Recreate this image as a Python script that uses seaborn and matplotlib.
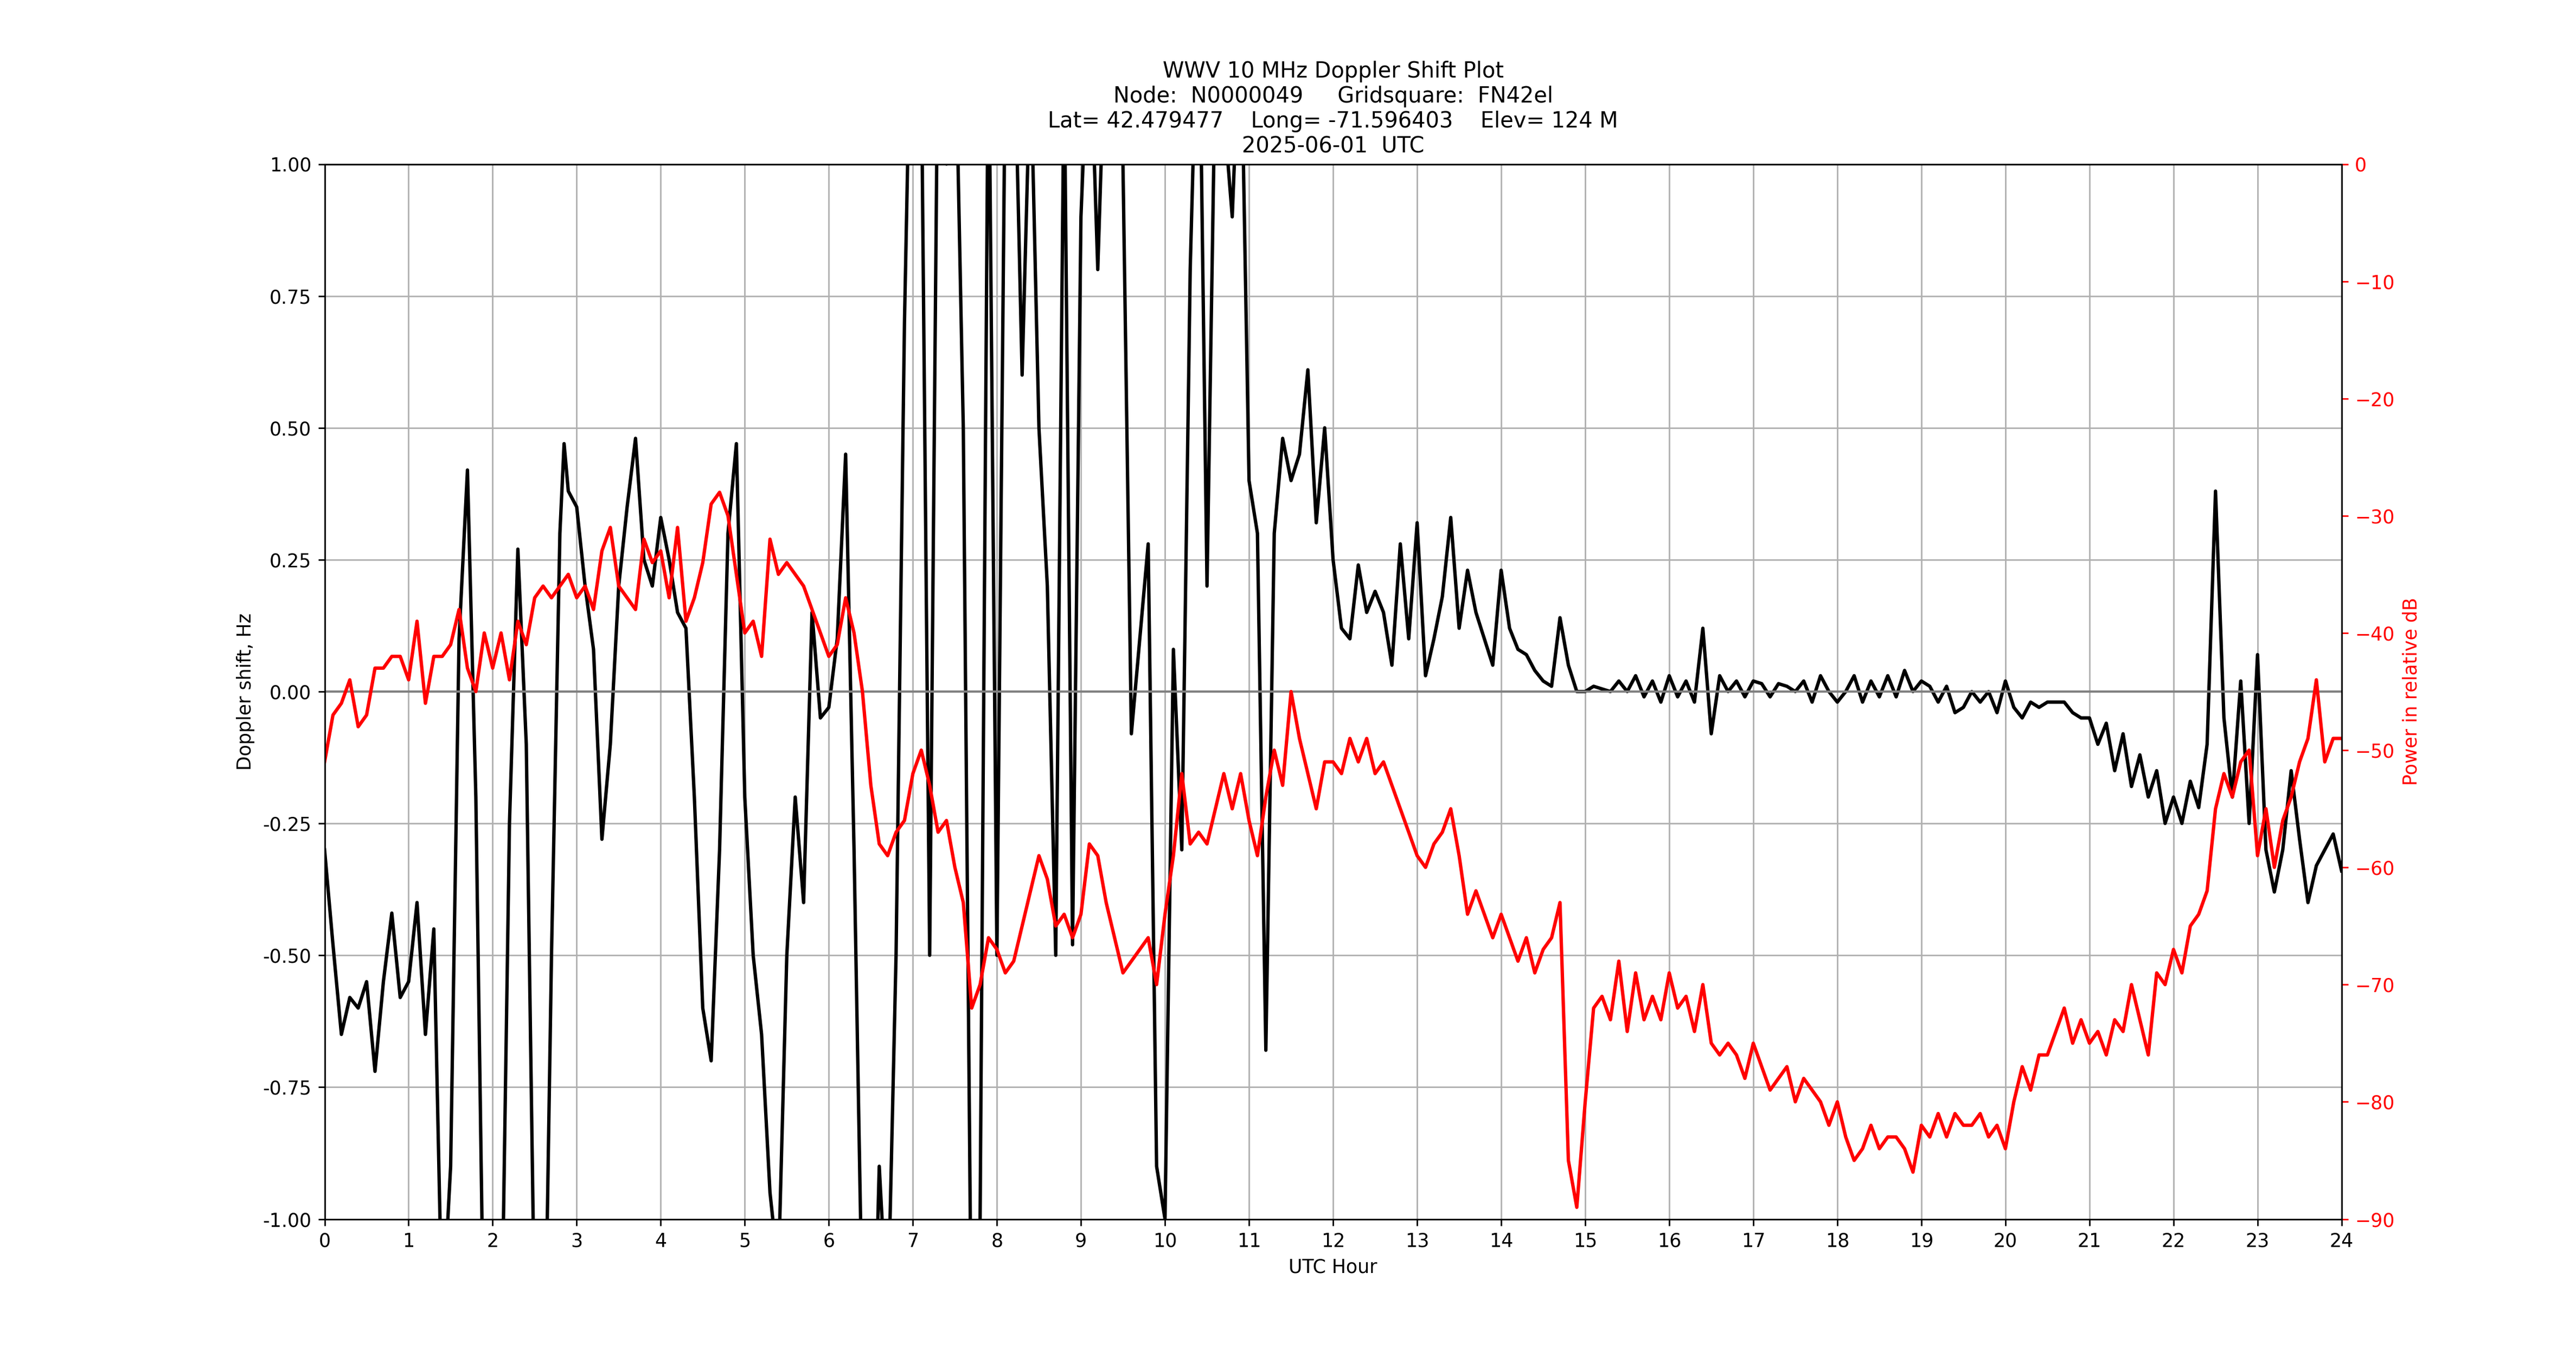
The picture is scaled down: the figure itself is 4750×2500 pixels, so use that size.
import numpy as np
import seaborn as sns
import matplotlib
matplotlib.use('Agg')
import matplotlib.pyplot as plt

# Doppler shift (Hz), black trace
dop_hours = [0.0, 0.1, 0.2, 0.3, 0.4, 0.5, 0.6, 0.7, 0.8, 0.9, 1.0, 1.1, 1.2, 1.3, 1.4, 1.5, 1.6, 1.7, 1.8, 1.9,
             2.0, 2.1, 2.2, 2.3, 2.4, 2.5, 2.6, 2.7, 2.8, 2.85, 2.9, 3.0, 3.1, 3.2, 3.3, 3.4, 3.5, 3.6, 3.7, 3.8, 3.9,
             4.0, 4.1, 4.2, 4.3, 4.4, 4.5, 4.6, 4.7, 4.8, 4.9, 5.0, 5.1, 5.2, 5.3, 5.4, 5.5, 5.6, 5.7, 5.8, 5.9,
             6.0, 6.1, 6.2, 6.3, 6.4, 6.5, 6.6, 6.7, 6.8, 6.9, 7.0, 7.1, 7.2, 7.3, 7.4, 7.5, 7.6, 7.7, 7.8, 7.9,
             8.0, 8.1, 8.2, 8.3, 8.4, 8.5, 8.6, 8.7, 8.8, 8.9, 9.0, 9.1, 9.2, 9.3, 9.4, 9.5, 9.6, 9.7, 9.8, 9.9,
             10.0, 10.1, 10.2, 10.3, 10.4, 10.5, 10.6, 10.7, 10.8, 10.9, 11.0, 11.1, 11.2, 11.3, 11.4, 11.5, 11.6,
             11.7, 11.8, 11.9, 12.0, 12.1, 12.2, 12.3, 12.4, 12.5, 12.6, 12.7, 12.8, 12.9, 13.0, 13.1, 13.2, 13.3,
             13.4, 13.5, 13.6, 13.7, 13.8, 13.9, 14.0, 14.1, 14.2, 14.3, 14.4, 14.5, 14.6, 14.7, 14.8, 14.9,
             15.0, 15.1, 15.2, 15.3, 15.4, 15.5, 15.6, 15.7, 15.8, 15.9, 16.0, 16.1, 16.2, 16.3, 16.4, 16.5, 16.6,
             16.7, 16.8, 16.9, 17.0, 17.1, 17.2, 17.3, 17.4, 17.5, 17.6, 17.7, 17.8, 17.9, 18.0, 18.1, 18.2, 18.3,
             18.4, 18.5, 18.6, 18.7, 18.8, 18.9, 19.0, 19.1, 19.2, 19.3, 19.4, 19.5, 19.6, 19.7, 19.8, 19.9,
             20.0, 20.1, 20.2, 20.3, 20.4, 20.5, 20.6, 20.7, 20.8, 20.9, 21.0, 21.1, 21.2, 21.3, 21.4, 21.5, 21.6,
             21.7, 21.8, 21.9, 22.0, 22.1, 22.2, 22.3, 22.4, 22.5, 22.6, 22.7, 22.8, 22.9, 23.0, 23.1, 23.2, 23.3,
             23.4, 23.5, 23.6, 23.7, 23.8, 23.9, 24.0]
doppler = [-0.3, -0.48, -0.65, -0.58, -0.6, -0.55, -0.72, -0.55, -0.42, -0.58, -0.55, -0.4, -0.65, -0.45, -1.2, -0.9,
           0.1, 0.42, -0.2, -1.3, -1.5, -1.3, -0.25, 0.27, -0.1, -1.2, -1.5, -0.5, 0.3, 0.47, 0.38, 0.35, 0.2, 0.08,
           -0.28, -0.1, 0.2, 0.35, 0.48, 0.25, 0.2, 0.33, 0.25, 0.15, 0.12, -0.2, -0.6, -0.7, -0.3, 0.3, 0.47, -0.2,
           -0.5, -0.65, -0.95, -1.1, -0.5, -0.2, -0.4, 0.15, -0.05, -0.03, 0.1, 0.45, -0.3, -1.2, -1.5, -0.9, -1.2,
           -0.5, 0.7, 1.5, 1.2, -0.5, 1.3, 1.0, 1.3, 0.5, -1.3, -1.0, 1.3, -0.5, 1.2, 1.3, 0.6, 1.2, 0.5, 0.2, -0.5,
           1.2, -0.48, 0.9, 1.3, 0.8, 1.3, 1.4, 1.0, -0.08, 0.1, 0.28, -0.9, -1.0, 0.08, -0.3, 0.8, 1.4, 0.2, 1.2,
           1.1, 0.9, 1.3, 0.4, 0.3, -0.68, 0.3, 0.48, 0.4, 0.45, 0.61, 0.32, 0.5, 0.25, 0.12, 0.1, 0.24, 0.15, 0.19,
           0.15, 0.05, 0.28, 0.1, 0.32, 0.03, 0.1, 0.18, 0.33, 0.12, 0.23, 0.15, 0.1, 0.05, 0.23, 0.12, 0.08, 0.07,
           0.04, 0.02, 0.01, 0.14, 0.05, 0.0, 0.0, 0.01, 0.005, 0.0, 0.02, 0.0, 0.03, -0.01, 0.02, -0.02, 0.03, -0.01,
           0.02, -0.02, 0.12, -0.08, 0.03, 0.0, 0.02, -0.01, 0.02, 0.015, -0.01, 0.015, 0.01, 0.0, 0.02, -0.02, 0.03,
           0.0, -0.02, 0.0, 0.03, -0.02, 0.02, -0.01, 0.03, -0.01, 0.04, 0.0, 0.02, 0.01, -0.02, 0.01, -0.04, -0.03,
           0.0, -0.02, 0.0, -0.04, 0.02, -0.03, -0.05, -0.02, -0.03, -0.02, -0.02, -0.02, -0.04, -0.05, -0.05, -0.1,
           -0.06, -0.15, -0.08, -0.18, -0.12, -0.2, -0.15, -0.25, -0.2, -0.25, -0.17, -0.22, -0.1, 0.38, -0.05, -0.2,
           0.02, -0.25, 0.07, -0.3, -0.38, -0.3, -0.15, -0.28, -0.4, -0.33, -0.3, -0.27, -0.34]

# Received power (relative dB), red trace, every 0.1 h
pwr_hours = np.round(np.arange(0, 24.01, 0.1), 1)
power = [-51, -47, -46, -44, -48, -47, -43, -43, -42, -42, -44, -39, -46, -42, -42, -41, -38, -43, -45, -40,
         -43, -40, -44, -39, -41, -37, -36, -37, -36, -35, -37, -36, -38, -33, -31, -36, -37, -38, -32, -34,
         -33, -37, -31, -39, -37, -34, -29, -28, -30, -35, -40, -39, -42, -32, -35, -34, -35, -36, -38, -40,
         -42, -41, -37, -40, -45, -53, -58, -59, -57, -56, -52, -50, -53, -57, -56, -60, -63, -72, -70, -66,
         -67, -69, -68, -65, -62, -59, -61, -65, -64, -66, -64, -58, -59, -63, -66, -69, -68, -67, -66, -70,
         -64, -59, -52, -58, -57, -58, -55, -52, -55, -52, -56, -59, -54, -50, -53, -45, -49, -52, -55, -51,
         -51, -52, -49, -51, -49, -52, -51, -53, -55, -57, -59, -60, -58, -57, -55, -59, -64, -62, -64, -66,
         -64, -66, -68, -66, -69, -67, -66, -63, -85, -89, -80, -72, -71, -73, -68, -74, -69, -73, -71, -73,
         -69, -72, -71, -74, -70, -75, -76, -75, -76, -78, -75, -77, -79, -78, -77, -80, -78, -79, -80, -82,
         -80, -83, -85, -84, -82, -84, -83, -83, -84, -86, -82, -83, -81, -83, -81, -82, -82, -81, -83, -82,
         -84, -80, -77, -79, -76, -76, -74, -72, -75, -73, -75, -74, -76, -73, -74, -70, -73, -76, -69, -70,
         -67, -69, -65, -64, -62, -55, -52, -54, -51, -50, -59, -55, -60, -56, -54, -51, -49, -44, -51, -49, -49]

title = ("WWV 10 MHz Doppler Shift Plot\n"
         "Node:  N0000049     Gridsquare:  FN42el\n"
         "Lat= 42.479477    Long= -71.596403    Elev= 124 M\n"
         "2025-06-01  UTC")

fig, ax1 = plt.subplots(figsize=(19, 10), dpi=250)
fig.subplots_adjust(left=0.126, right=0.909, top=0.879, bottom=0.101)

sns.lineplot(x=dop_hours, y=doppler, ax=ax1, color='black', linewidth=1.8)
ax1.axhline(0, color='grey', linewidth=1.2)
ax1.set_xlim(0, 24)
ax1.set_ylim(-1, 1)
ax1.set_xticks(range(0, 25))
ax1.set_yticks(np.arange(-1, 1.01, 0.25))
ax1.yaxis.set_major_formatter(matplotlib.ticker.FormatStrFormatter('%.2f'))
ax1.grid(True)
ax1.set_xlabel('UTC Hour')
ax1.set_ylabel('Doppler shift, Hz')
ax1.set_title(title, fontsize=11.5)

ax2 = ax1.twinx()
sns.lineplot(x=pwr_hours, y=power, ax=ax2, color='red', linewidth=1.8)
ax2.set_ylim(-90, 0)
ax2.set_ylabel('Power in relative dB', color='red')
ax2.tick_params(axis='y', colors='red')

fig.savefig('out.png')
